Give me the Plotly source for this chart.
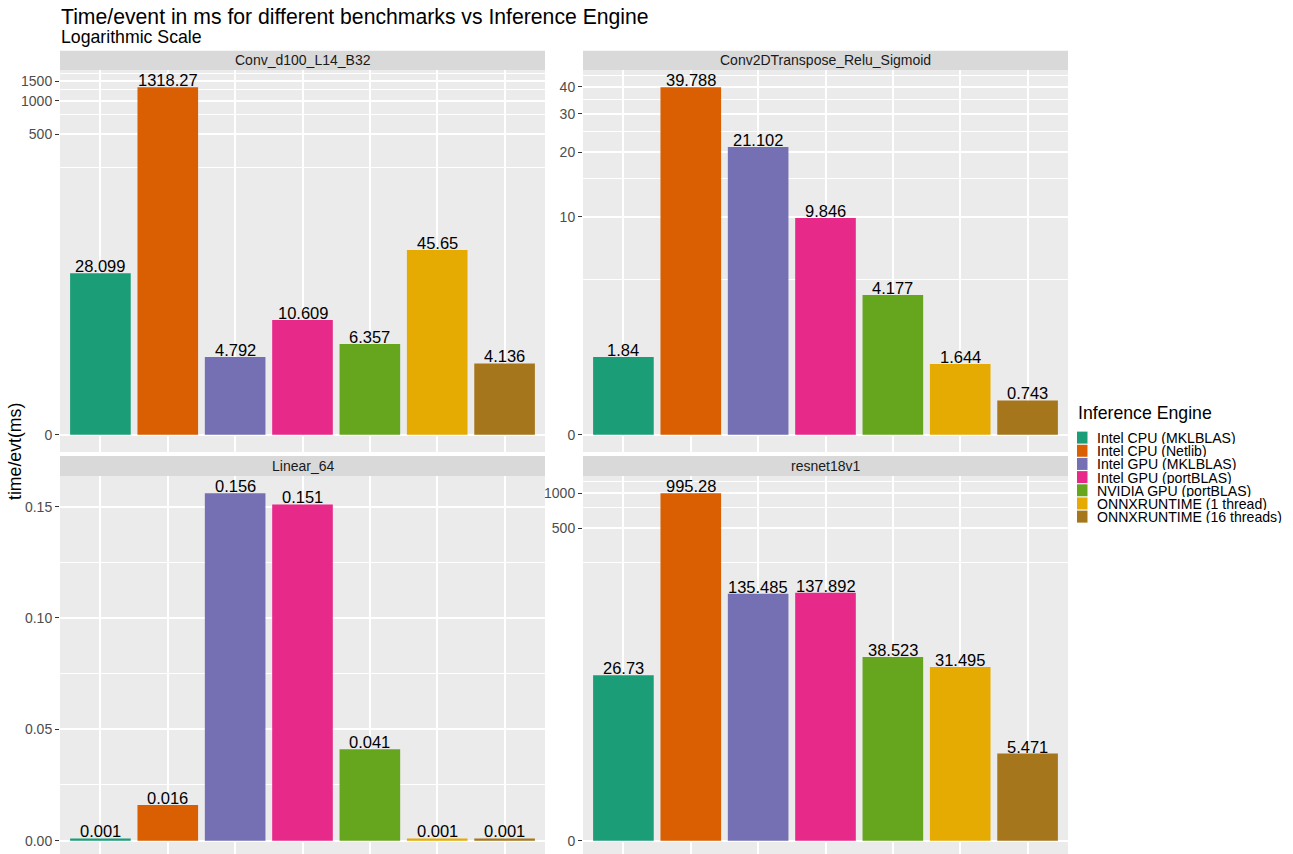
import numpy as np
import plotly.graph_objects as go

# ---- data -------------------------------------------------------------
engines = [
    "Intel CPU (MKLBLAS)",
    "Intel CPU (Netlib)",
    "Intel GPU (MKLBLAS)",
    "Intel GPU (portBLAS)",
    "NVIDIA GPU (portBLAS)",
    "ONNXRUNTIME (1 thread)",
    "ONNXRUNTIME (16 threads)",
]
engine_colors = ["#1B9E77", "#D95F02", "#7570B3", "#E7298A", "#66A61E", "#E6AB02", "#A6761D"]

benchmarks = ["Conv_d100_L14_B32", "Conv2DTranspose_Relu_Sigmoid", "Linear_64", "resnet18v1"]

conv_d100_l14_b32 = [28.099, 1318.27, 4.792, 10.609, 6.357, 45.65, 4.136]
conv2dtranspose_relu_sigmoid = [1.84, 39.788, 21.102, 9.846, 4.177, 1.644, 0.743]
linear_64 = [0.001, 0.016, 0.156, 0.151, 0.041, 0.001, 0.001]
resnet18v1 = [26.73, 995.28, 135.485, 137.892, 38.523, 31.495, 5.471]

# y-axis breaks per facet (data units)
major_breaks = [[0, 500, 1000, 1500], [0, 10, 20, 30, 40], [0, 0.05, 0.10, 0.15], [0, 500, 1000]]
major_labels = [["0", "500", "1000", "1500"], ["0", "10", "20", "30", "40"],
                ["0.00", "0.05", "0.10", "0.15"], ["0", "500", "1000"]]
minor_breaks = [[250, 750, 1250, 1750], [5, 15, 25, 35, 45], [0.025, 0.075, 0.125], [250, 750, 1250]]

series = [conv_d100_l14_b32, conv2dtranspose_relu_sigmoid, linear_64, resnet18v1]


# pseudo-log transform (asinh based, base 10)
def ptrans(v):
    return np.arcsinh(np.asarray(v, dtype=float) / 2.0) / np.log(10)


# ---- layout geometry (pixels) -------------------------------------------
W, H = 1293, 854
FONT = "Liberation Sans, Arial, Helvetica, sans-serif"

col_x = [(60, 545), (583, 1068)]
row_y = [(70, 452), (476, 858)]      # full panel extent; lower row is cut by the page edge
strip_y = [(50.7, 70), (456, 476)]
positions = [(0, 0), (0, 1), (1, 0), (1, 1)]  # (row, col)


def fx(px):
    return px / W


def fy(py):
    return 1 - py / H


fig = go.Figure()
layout = dict(
    width=W, height=H,
    margin=dict(l=0, r=0, t=0, b=0),
    paper_bgcolor="white",
    plot_bgcolor="#EBEBEB",
    showlegend=False,
    font=dict(family=FONT, color="#000000"),
    shapes=[], annotations=[],
)

for i, (name, vals, (r, c)) in enumerate(zip(benchmarks, series, positions), start=1):
    xs = "" if i == 1 else str(i)
    x0, x1 = col_x[c]
    y0, y1 = row_y[r]
    vis_bottom = min(y1, H)

    t = ptrans(vals)
    tmax = float(t.max())
    lo_full, hi = -0.05 * tmax, 1.05 * tmax
    lo = hi - (hi - lo_full) * (vis_bottom - y0) / (y1 - y0)

    fig.add_trace(go.Bar(
        x=engines, y=t, width=0.9,
        marker=dict(color=engine_colors, line=dict(width=0)),
        xaxis="x" + xs, yaxis="y" + xs,
        hovertext=[f"{v:g}" for v in vals], hoverinfo="text",
    ))

    layout["xaxis" + xs] = dict(
        domain=[fx(x0), fx(x1)], anchor="y" + xs,
        type="category", categoryorder="array", categoryarray=engines,
        range=[-0.6, len(engines) - 0.4],
        showticklabels=False, ticks="", showline=False, zeroline=False,
        showgrid=True, gridcolor="white", gridwidth=1.7, fixedrange=True,
    )
    layout["yaxis" + xs] = dict(
        domain=[fy(vis_bottom), fy(y0)], anchor="x" + xs,
        range=[lo, hi],
        tickmode="array", tickvals=list(ptrans(major_breaks[i - 1])),
        ticktext=major_labels[i - 1],
        ticks="outside", ticklen=4, tickwidth=1.2, tickcolor="#333333",
        tickfont=dict(family=FONT, size=14, color="#4D4D4D"),
        showgrid=True, gridcolor="white", gridwidth=1.7,
        minor=dict(tickmode="array", tickvals=list(ptrans(minor_breaks[i - 1])),
                   showgrid=True, gridcolor="white", gridwidth=0.85),
        zeroline=False, showline=False, fixedrange=True,
    )

    # facet strip
    sy0, sy1 = strip_y[r]
    layout["shapes"].append(dict(
        type="rect", xref="paper", yref="paper",
        x0=fx(x0), x1=fx(x1), y0=fy(sy1), y1=fy(sy0),
        fillcolor="#D9D9D9", line=dict(width=0), layer="below",
    ))
    layout["annotations"].append(dict(
        xref="paper", yref="paper", x=fx((x0 + x1) / 2), y=fy((sy0 + sy1) / 2),
        text=name, showarrow=False, xanchor="center", yanchor="middle",
        font=dict(family=FONT, size=14, color="#1A1A1A"),
    ))

    # value labels above bars
    for eng, v, tv in zip(engines, vals, t):
        layout["annotations"].append(dict(
            xref="x" + xs, yref="y" + xs, x=eng, y=float(tv),
            text=f"{v:g}", showarrow=False, xanchor="center", yanchor="bottom",
            yshift=-4, font=dict(family=FONT, size=16.5, color="#000000"),
        ))

# titles
layout["annotations"].append(dict(
    xref="paper", yref="paper", x=fx(59), y=fy(17),
    text="Time/event in ms for different benchmarks vs Inference Engine",
    showarrow=False, xanchor="left", yanchor="middle",
    font=dict(family=FONT, size=21.2, color="#000000"),
))
layout["annotations"].append(dict(
    xref="paper", yref="paper", x=fx(59), y=fy(37),
    text="Logarithmic Scale", showarrow=False, xanchor="left", yanchor="middle",
    font=dict(family=FONT, size=17.7, color="#000000"),
))
layout["annotations"].append(dict(
    xref="paper", yref="paper", x=fx(15), y=fy(452),
    text="time/evt(ms)", textangle=-90, showarrow=False,
    xanchor="center", yanchor="middle",
    font=dict(family=FONT, size=17.7, color="#000000"),
))

# legend
layout["annotations"].append(dict(
    xref="paper", yref="paper", x=fx(1076), y=fy(413),
    text="Inference Engine", showarrow=False, xanchor="left", yanchor="middle",
    font=dict(family=FONT, size=17.7, color="#000000"),
))
row0, row_step = 437.6, 13.17
for k, (eng, col) in enumerate(zip(engines, engine_colors)):
    cy = row0 + k * row_step
    layout["shapes"].append(dict(
        type="rect", xref="paper", yref="paper",
        x0=fx(1077), x1=fx(1087.5), y0=fy(cy + 6), y1=fy(cy - 6),
        fillcolor=col, line=dict(width=0),
    ))
    layout["annotations"].append(dict(
        xref="paper", yref="paper", x=fx(1096), y=fy(cy),
        text=eng, showarrow=False, xanchor="left", yanchor="middle",
        height=13, valign="middle", borderpad=0,
        font=dict(family=FONT, size=14.1, color="#000000"),
    ))

fig.update_layout(**layout)
fig.write_html("out.html")
